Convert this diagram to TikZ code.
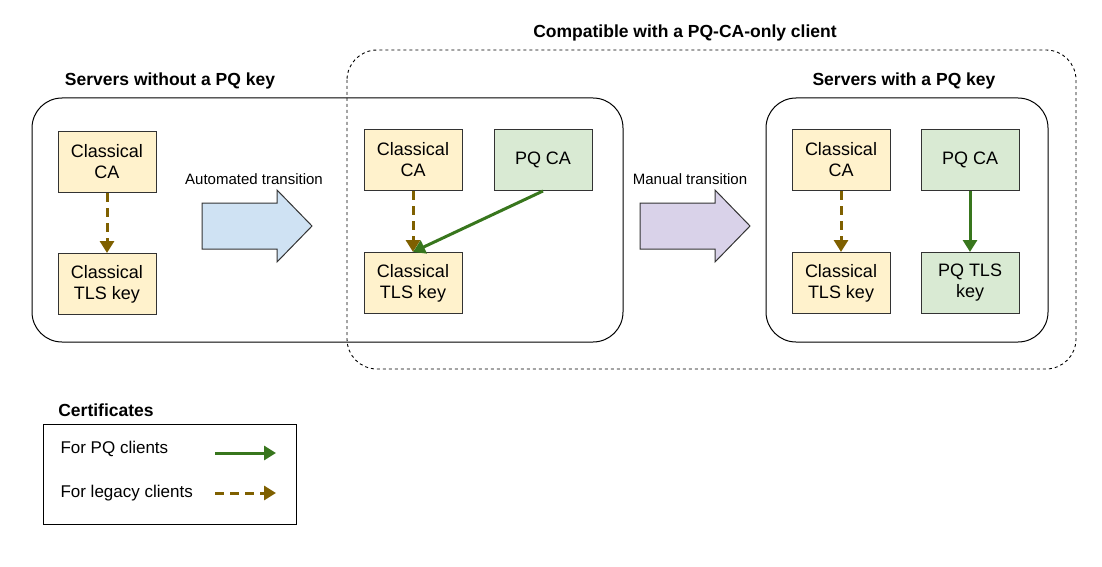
\documentclass[tikz,border=0pt]{standalone}
\usepackage{fontspec}
\setmainfont{Liberation Sans}
\usetikzlibrary{arrows.meta}
\definecolor{yel}{HTML}{FFF2CC}
\definecolor{grn}{HTML}{D9EAD3}
\definecolor{blu}{HTML}{CFE2F3}
\definecolor{pur}{HTML}{D9D2E9}
\definecolor{garr}{HTML}{38761D}
\definecolor{barr}{HTML}{7F6000}
\begin{document}
\begin{tikzpicture}[x=1pt,y=-1pt,
  box/.style={draw=black!80,line width=1pt,minimum width=98pt,minimum height=61pt,align=center,font=\fontsize{18}{21}\selectfont,inner sep=2pt},
  cls/.style={box,fill=yel}, pq/.style={box,fill=grn},
  grp/.style={draw=black,line width=1pt,rounded corners=30pt},
  ttl/.style={font=\bfseries\fontsize{17.5}{20}\selectfont},
  lbl/.style={font=\fontsize{15}{18}\selectfont},
  ga/.style={draw=garr,line width=3pt,-{Triangle[length=12pt,width=14pt]}},
  ba/.style={draw=barr,line width=3pt,dash pattern=on 9pt off 6pt,-{Triangle[length=12pt,width=14pt]}}]
\useasboundingbox (0,0) rectangle (1102,567);
\draw[grp] (32,98) rectangle (623,342);
\draw[grp,dashed,line width=0.9pt] (347,50) rectangle (1076,369);
\draw[grp] (766,98) rectangle (1048,342);
\node[ttl] (t1) at (170,81) {Servers without a PQ key};
\node[ttl] (t2) at (685,33) {Compatible with a PQ-CA-only client};
\node[ttl] (t3) at (904,81) {Servers with a PQ key};
\node[cls] (a1) at (107,162) {Classical\\CA};
\node[cls] (a2) at (107,284) {Classical\\TLS key};
\node[cls] (b1) at (413,160) {Classical\\CA};
\node[pq]  (b2) at (543,160) {PQ CA};
\node[cls] (b3) at (413,283) {Classical\\TLS key};
\node[cls] (c1) at (841,160) {Classical\\CA};
\node[pq]  (c2) at (970,160) {PQ CA};
\node[cls] (c3) at (841,283) {Classical\\TLS key};
\node[pq]  (c4) at (970,283) {PQ TLS\\key};
\draw[ba] (a1) -- (a2);
\draw[ba] (b1) -- (b3);
\draw[ga] (b2.south) -- (b3.north);
\draw[ba] (c1) -- (c3);
\draw[ga] (c2) -- (c4);
\draw[fill=blu,draw=black!80,line width=1pt] (202,203)--(277,203)--(277,190)--(312,226)--(277,262)--(277,249)--(202,249)--cycle;
\draw[fill=pur,draw=black!80,line width=1pt] (640,203)--(715,203)--(715,190)--(750,226)--(715,262)--(715,249)--(640,249)--cycle;
\node[lbl] (l1) at (254,179) {Automated transition};
\node[lbl] (l2) at (690,179) {Manual transition};
\node[ttl] (lt) at (106,410) {Certificates};
\draw[line width=1pt] (43,424) rectangle (296,524);
\node[font=\fontsize{17}{20}\selectfont,anchor=west] (lp) at (57,449) {For PQ clients};
\node[font=\fontsize{17}{20}\selectfont,anchor=west] (ll) at (57,493) {For legacy clients};
\coordinate (p1) at (215,453); \coordinate (p2) at (276,453);
\coordinate (q1) at (215,493); \coordinate (q2) at (276,493);
\draw[ga] (p1) -- (p2);
\draw[ba] (q1) -- (q2);
\end{tikzpicture}
\end{document}
